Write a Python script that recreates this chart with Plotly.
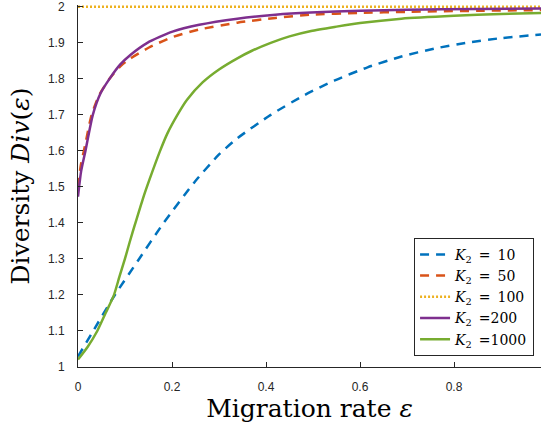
import plotly.graph_objects as go

# ---- data ----
x_k10 = [0, 0.03, 0.076, 0.13, 0.1795, 0.249, 0.30, 0.339, 0.41, 0.482, 0.545, 0.616, 0.688, 0.758, 0.83, 0.9, 0.985]
y_k10 = [1.029, 1.095, 1.195, 1.30, 1.395, 1.515, 1.59, 1.635, 1.70, 1.755, 1.795, 1.832, 1.862, 1.884, 1.901, 1.913, 1.923]

x_k50 = [0, 0.006, 0.015, 0.029, 0.045, 0.067, 0.09, 0.112, 0.151, 0.201, 0.258, 0.339, 0.42, 0.495, 0.6, 0.7, 0.85, 0.985]
y_k50 = [1.50, 1.56, 1.615, 1.70, 1.755, 1.80, 1.835, 1.857, 1.887, 1.916, 1.937, 1.956, 1.969, 1.978, 1.983, 1.986, 1.989, 1.991]

x_k100 = [0, 0.985]
y_k100 = [2.0, 2.0]

x_k200 = [0, 0.0066, 0.0158, 0.0315, 0.048, 0.067, 0.09, 0.112, 0.1475, 0.201, 0.258, 0.339, 0.42, 0.495, 0.6, 0.7, 0.85, 0.985]
y_k200 = [1.473, 1.543, 1.60, 1.70, 1.76, 1.80, 1.84, 1.867, 1.90, 1.931, 1.950, 1.967, 1.978, 1.984, 1.989, 1.992, 1.994, 1.995]

x_k1000 = [0, 0.02, 0.041, 0.0585, 0.076, 0.088, 0.0998, 0.11, 0.121, 0.138, 0.152, 0.174, 0.19, 0.2115, 0.232, 0.265, 0.30, 0.339, 0.37, 0.41, 0.45, 0.496, 0.55, 0.6, 0.688, 0.8, 0.9, 0.985]
y_k1000 = [1.021, 1.055, 1.10, 1.149, 1.198, 1.25, 1.30, 1.347, 1.395, 1.467, 1.52, 1.598, 1.648, 1.70, 1.742, 1.790, 1.826, 1.857, 1.878, 1.90, 1.918, 1.933, 1.945, 1.955, 1.967, 1.975, 1.980, 1.983]

series_names = ["<i>K</i><sub>2</sub>\u2002=\u200210", "<i>K</i><sub>2</sub>\u2002=\u200250",
                "<i>K</i><sub>2</sub>\u2002=\u2002100", "<i>K</i><sub>2</sub>\u2002=200",
                "<i>K</i><sub>2</sub>\u2002=1000"]

x_tickvals = [0, 0.2, 0.4, 0.6, 0.8]
x_ticktext = ["0", "0.2", "0.4", "0.6", "0.8"]
y_tickvals = [1, 1.1, 1.2, 1.3, 1.4, 1.5, 1.6, 1.7, 1.8, 1.9, 2]
y_ticktext = ["1", "1.1", "1.2", "1.3", "1.4", "1.5", "1.6", "1.7", "1.8", "1.9", "2"]

# ---- figure ----
fig = go.Figure()
styles = [
    (x_k10, y_k10, "#0072BD", "9px,7px"),
    (x_k50, y_k50, "#D95319", "9px,7px"),
    (x_k100, y_k100, "#EDB120", "2px,2px"),
    (x_k200, y_k200, "#7E2F8E", "solid"),
    (x_k1000, y_k1000, "#77AC30", "solid"),
]
for (xs, ys, col, dash), name in zip(styles, series_names):
    fig.add_trace(go.Scatter(
        x=xs, y=ys, mode="lines", name=name,
        line=dict(color=col, width=2.5, dash=dash, shape="spline", smoothing=0.6),
    ))

axis_col = "#262626"
title_font = dict(family="DejaVu Serif", size=25, color="black")
fig.update_layout(
    width=543, height=427,
    margin=dict(l=78, r=2, t=5, b=60),
    paper_bgcolor="white", plot_bgcolor="white",
    showlegend=True,
    legend=dict(
        x=0.985, y=0.031, xanchor="right", yanchor="bottom",
        bgcolor="white", bordercolor=axis_col, borderwidth=1,
        font=dict(family="DejaVu Serif", size=14, color="black"),
        tracegroupgap=0,
    ),
    xaxis=dict(
        range=[0, 0.985], tickvals=x_tickvals, ticktext=x_ticktext,
        ticks="inside", ticklen=5, tickcolor=axis_col, ticklabelstandoff=9,
        showline=True, linecolor=axis_col, linewidth=1, mirror=False,
        showgrid=False, zeroline=False, automargin=False,
        tickfont=dict(family="Liberation Sans", size=12, color=axis_col),
        title=dict(text="Migration rate <i>ε</i>", font=title_font, standoff=3),
    ),
    yaxis=dict(
        range=[1, 2.005], tickvals=y_tickvals, ticktext=y_ticktext,
        ticks="inside", ticklen=5, tickcolor=axis_col, ticklabelstandoff=10,
        showline=True, linecolor=axis_col, linewidth=1, mirror=False,
        showgrid=False, zeroline=False, automargin=False,
        tickfont=dict(family="Liberation Sans", size=12, color=axis_col),
        title=dict(text="Diversity <i>Div</i>(<i>ε</i>)", font=title_font, standoff=11),
    ),
)

fig.write_html("out.html", config={"displayModeBar": False},
               post_script="document.body.style.margin='0px';")
